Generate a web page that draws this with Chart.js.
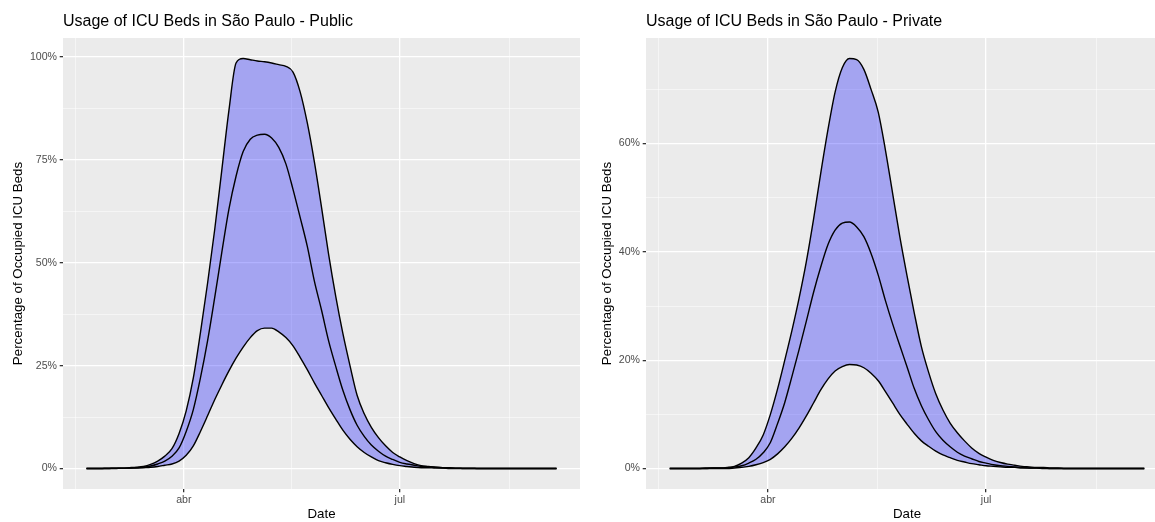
<!DOCTYPE html>
<html><head><meta charset="utf-8">
<script src="https://cdn.jsdelivr.net/npm/chart.js@4/dist/chart.umd.min.js"></script>
<style>
html,body{margin:0;padding:0;background:#fff;}
#wrap{position:relative;width:1155px;height:522px;overflow:hidden;background:#fff;}
canvas{position:absolute;top:0;}
#c1{left:0;}
#c2{left:589px;}
</style></head><body>
<div id="wrap">
<canvas id="c1" width="587" height="522"></canvas>
<canvas id="c2" width="600" height="522"></canvas>
</div>
<script>
// ---- data ----
const dates = [
'2020-02-20','2020-02-23','2020-02-26','2020-02-29','2020-03-03','2020-03-06','2020-03-09','2020-03-12','2020-03-15','2020-03-18','2020-03-21','2020-03-24','2020-03-27','2020-03-30',
'2020-04-02','2020-04-05','2020-04-08','2020-04-11','2020-04-14','2020-04-17','2020-04-20','2020-04-23','2020-04-26','2020-04-29',
'2020-05-02','2020-05-05','2020-05-08','2020-05-11','2020-05-14','2020-05-17','2020-05-20','2020-05-23','2020-05-26','2020-05-29',
'2020-06-01','2020-06-04','2020-06-07','2020-06-10','2020-06-13','2020-06-16','2020-06-19','2020-06-22','2020-06-25','2020-06-28',
'2020-07-01','2020-07-04','2020-07-07','2020-07-10','2020-07-13','2020-07-16','2020-07-19','2020-07-22','2020-07-25','2020-07-28',
'2020-07-31','2020-08-03','2020-08-06','2020-08-09','2020-08-12','2020-08-15','2020-08-18','2020-08-21','2020-08-24','2020-08-27','2020-08-30','2020-09-02','2020-09-05'];

const publicUpper = [0,0,0,0.001,0.001,0.001,0.002,0.003,0.005,0.010,0.018,0.030,0.048,0.085,
0.140,0.220,0.330,0.450,0.580,0.725,0.870,0.985,0.996,0.993,
0.990,0.988,0.985,0.981,0.977,0.963,0.915,0.840,0.745,0.635,
0.520,0.418,0.328,0.250,0.178,0.133,0.100,0.075,0.055,0.039,
0.028,0.019,0.012,0.007,0.005,0.003,0.002,0.002,0.001,0.001,
0.001,0,0,0,0,0,0,0,0,0,0,0,0];
const publicMid = [0,0,0,0,0.001,0.001,0.001,0.002,0.003,0.006,0.011,0.018,0.030,0.050,
0.090,0.143,0.220,0.310,0.415,0.525,0.630,0.710,0.770,0.800,
0.810,0.812,0.803,0.780,0.740,0.678,0.610,0.540,0.455,0.385,
0.310,0.248,0.190,0.143,0.105,0.078,0.057,0.042,0.030,0.022,
0.015,0.011,0.008,0.005,0.004,0.003,0.002,0.001,0.001,0,
0,0,0,0,0,0,0,0,0,0,0,0,0];
const publicLower = [0,0,0,0,0,0.001,0.001,0.001,0.002,0.003,0.005,0.008,0.011,0.018,
0.032,0.055,0.090,0.128,0.167,0.203,0.237,0.268,0.295,0.318,
0.335,0.341,0.341,0.332,0.318,0.298,0.270,0.240,0.208,0.178,
0.148,0.120,0.093,0.071,0.053,0.039,0.028,0.019,0.014,0.010,
0.007,0.005,0.003,0.002,0.002,0.001,0.001,0,0,0,
0,0,0,0,0,0,0,0,0,0,0,0,0];

const privateUpper = [0,0,0,0,0,0.001,0.001,0.001,0.002,0.004,0.010,0.020,0.038,0.062,
0.100,0.147,0.200,0.255,0.315,0.382,0.460,0.545,0.625,0.695,
0.740,0.757,0.755,0.737,0.700,0.658,0.588,0.508,0.428,0.356,
0.288,0.225,0.178,0.138,0.108,0.084,0.066,0.051,0.038,0.028,
0.021,0.015,0.011,0.008,0.006,0.004,0.003,0.002,0.002,0.001,
0.001,0,0,0,0,0,0,0,0,0,0,0,0];
const privateMid = [0,0,0,0,0,0,0.001,0.001,0.001,0.003,0.005,0.010,0.017,0.029,
0.048,0.083,0.122,0.170,0.220,0.272,0.325,0.372,0.413,0.440,
0.453,0.455,0.446,0.428,0.397,0.357,0.310,0.267,0.227,0.188,
0.148,0.116,0.090,0.068,0.052,0.040,0.030,0.023,0.018,0.013,
0.010,0.007,0.005,0.004,0.003,0.002,0.001,0.001,0.001,0,
0,0,0,0,0,0,0,0,0,0,0,0,0];
const privateLower = [0,0,0,0,0,0,0,0,0,0.001,0.002,0.004,0.007,0.011,
0.017,0.027,0.040,0.056,0.075,0.097,0.121,0.145,0.165,0.180,
0.188,0.192,0.191,0.186,0.176,0.162,0.142,0.121,0.100,0.082,
0.065,0.051,0.041,0.032,0.025,0.020,0.015,0.012,0.009,0.007,
0.005,0.004,0.003,0.002,0.002,0.001,0.001,0.001,0,0,
0,0,0,0,0,0,0,0,0,0,0,0,0];

// tick labels
const xTickDates = ['2020-04-01','2020-07-01'];
const xTickLabels = ['abr','jul'];
const xMinorDates = ['2020-02-15T12:00','2020-05-16T12:00','2020-08-16T00:00'];
const publicYTicks = [0, 0.25, 0.5, 0.75, 1];
const publicYLabels = ['0%','25%','50%','75%','100%'];
const publicYMinor = [0.125, 0.375, 0.625, 0.875];
const privateYTicks = [0, 0.2, 0.4, 0.6];
const privateYLabels = ['0%','20%','40%','60%'];
const privateYMinor = [0.1, 0.3, 0.5, 0.7];

// ---- helpers ----
const FONT = '"Liberation Sans", Arial, Helvetica, sans-serif';
const ORIGIN = Date.parse('2020-04-01T00:00:00Z');
const toDay = s => (Date.parse((s.length === 10 ? s + 'T00:00:00' : s) + 'Z') - ORIGIN) / 864e5;

const xs = dates.map(toDay);
const xMajor = xTickDates.map(toDay);
const xMinor = xMinorDates.map(toDay);
const xSpan = xs[xs.length - 1] - xs[0];
const xMin = xs[0] - 0.05 * xSpan, xMax = xs[xs.length - 1] + 0.05 * xSpan;

const bgPlugin = {
  id: 'panelBg',
  beforeDraw(chart) {
    const {ctx, chartArea: a} = chart;
    ctx.save();
    ctx.fillStyle = '#EBEBEB';
    ctx.fillRect(a.left, a.top, a.right - a.left, a.bottom - a.top);
    ctx.restore();
  }
};

const near = (v, arr) => arr.findIndex(t => Math.abs(t - v) < 1e-6);

function makePanel(id, title, lower, mid, upper, yTicks, yLabels, yMinor, yWidth, padRight) {
  const pts = arr => xs.map((x, i) => ({x, y: arr[i]}));
  const yMaxData = Math.max(...upper);
  const yMin = -0.05 * yMaxData, yMax = yMaxData * 1.05;
  const lineDs = (label, arr, extra) => Object.assign({
    label, data: pts(arr), borderColor: '#000000', borderWidth: 1.4,
    pointRadius: 0, cubicInterpolationMode: 'monotone', fill: false
  }, extra || {});
  const gridCommon = (major) => ({
    color: ctx => near(ctx.tick.value, major) >= 0 ? '#FFFFFF' : 'rgba(255,255,255,0.85)',
    lineWidth: ctx => near(ctx.tick.value, major) >= 0 ? 1.3 : 0.6,
    tickColor: ctx => near(ctx.tick.value, major) >= 0 ? '#333333' : 'rgba(0,0,0,0)',
    tickLength: 3.3,
    drawOnChartArea: true
  });
  return new Chart(document.getElementById(id), {
    type: 'line',
    data: {
      datasets: [
        lineDs('lower', lower),
        lineDs('upper', upper, {fill: '-1', backgroundColor: 'rgba(0,0,255,0.3)'}),
        lineDs('mid', mid)
      ]
    },
    options: {
      responsive: false,
      animation: false,
      devicePixelRatio: 1,
      layout: {padding: {left: 0, right: padRight, top: 0, bottom: 0}},
      plugins: {
        legend: {display: false},
        tooltip: {enabled: false},
        filler: {drawTime: 'beforeDatasetsDraw'},
        title: {
          display: true, text: title, align: 'start', fullSize: false,
          color: '#000000', font: {family: FONT, size: 16, weight: 'normal'},
          padding: {top: 12, bottom: 6.8}
        }
      },
      scales: {
        x: {
          type: 'linear', min: xMin, max: xMax,
          afterBuildTicks: s => { s.ticks = [...xMinor, ...xMajor].sort((a, b) => a - b).map(v => ({value: v})); },
          afterFit: s => { s.height = 33; },
          ticks: {
            autoSkip: false, maxRotation: 0, color: '#4D4D4D', padding: 1.5,
            font: {family: FONT, size: 10.6},
            callback: v => { const i = near(v, xMajor); return i >= 0 ? xTickLabels[i] : ''; }
          },
          grid: gridCommon(xMajor),
          border: {display: false},
          title: {display: true, text: 'Date', color: '#000000', font: {family: FONT, size: 13.3}, padding: {top: 0, bottom: 0}}
        },
        y: {
          type: 'linear', min: yMin, max: yMax,
          afterBuildTicks: s => { s.ticks = [...yTicks, ...yMinor].sort((a, b) => a - b).map(v => ({value: v})); },
          afterFit: s => { s.width = yWidth; },
          ticks: {
            autoSkip: false, color: '#4D4D4D', padding: 2.7,
            font: {family: FONT, size: 10.6},
            callback: v => { const i = near(v, yTicks); return i >= 0 ? yLabels[i] : ''; }
          },
          grid: gridCommon(yTicks),
          border: {display: false},
          title: {display: true, text: 'Percentage of Occupied ICU Beds', color: '#000000', font: {family: FONT, size: 13.3}, padding: {top: 10, bottom: 0}}
        }
      }
    },
    plugins: [bgPlugin]
  });
}

makePanel('c1', 'Usage of ICU Beds in São Paulo - Public', publicLower, publicMid, publicUpper,
  publicYTicks, publicYLabels, publicYMinor, 63, 7);
makePanel('c2', 'Usage of ICU Beds in São Paulo - Private', privateLower, privateMid, privateUpper,
  privateYTicks, privateYLabels, privateYMinor, 57, 21);
</script>
</body></html>
